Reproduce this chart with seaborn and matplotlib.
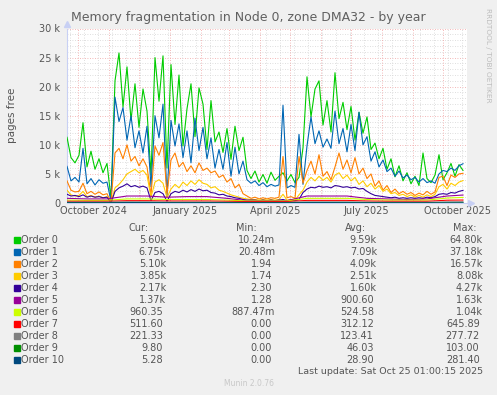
import matplotlib
matplotlib.use("Agg")
import matplotlib.pyplot as plt
from matplotlib.patches import Rectangle
import pandas as pd
import seaborn as sns

# time axis: munin "by year" = last 400 days
start = pd.Timestamp("2024-09-20 01:00")
end = pd.Timestamp("2025-10-25 01:00")
fine_days = list(range(0, 400, 4))
coarse_days = list(range(0, 400, 20)) + [396]

# values in thousands of pages
order0 = [11.3, 7.8, 6.9, 8.2, 13.8, 6.2, 8.9, 5.8, 7.6, 5.2,
          6.8, 0.8, 21.0, 25.8, 16.5, 23.4, 14.2, 20.5, 13.0, 19.6,
          15.8, 4.8, 25.0, 17.5, 25.3, 6.0, 23.8, 13.5, 22.0, 9.8,
          16.2, 20.5, 11.4, 19.8, 17.0, 9.2, 17.6, 10.5, 12.2, 8.7,
          12.8, 7.5, 13.2, 9.0, 11.3, 5.6, 4.2, 5.5, 3.6, 4.9,
          3.4, 5.3, 3.9, 4.6, 5.2, 3.8, 4.9, 3.5, 4.4, 9.5,
          21.7, 14.8, 19.6, 21.0, 13.4, 17.6, 12.2, 22.4, 14.5, 17.3,
          12.6, 16.6, 10.8, 15.6, 12.0, 14.8, 9.2, 10.3, 7.6, 9.4,
          5.8, 7.6, 4.5, 6.4, 3.8, 5.2, 3.3, 4.6, 3.0, 8.6,
          4.2, 3.5, 4.8, 8.3, 4.0, 5.2, 6.8, 4.6, 6.6, 5.6]
order1 = [6.3, 3.8, 4.4, 3.6, 9.4, 3.3, 4.2, 3.1, 4.0, 3.4,
          3.6, 0.3, 18.2, 14.0, 16.4, 10.8, 15.0, 9.5, 12.4, 8.6,
          13.2, 2.8, 15.0, 11.2, 17.0, 1.2, 14.2, 9.8, 13.6, 7.8,
          12.4, 6.9, 14.6, 9.0, 13.0, 7.6, 11.2, 6.0, 9.2, 5.8,
          10.4, 4.6, 9.6, 5.0, 7.2, 4.0, 3.4, 3.8, 3.0, 3.5,
          2.8, 3.2, 2.9, 3.1, 16.8, 2.6, 3.0, 2.7, 11.8, 3.2,
          9.8, 14.8, 10.2, 12.4, 9.6, 11.0, 9.4, 15.8, 10.2, 12.8,
          8.8, 13.5, 9.0, 15.6, 10.0, 11.4, 7.2, 8.8, 6.2, 7.4,
          5.4, 6.0, 4.6, 5.5, 4.3, 4.8, 4.0, 4.4, 3.6, 4.2,
          3.5, 3.8, 3.4, 5.0, 5.6, 5.4, 6.0, 5.6, 6.4, 6.75]
order2 = [3.8, 2.2, 1.9, 2.0, 3.4, 1.6, 2.0, 1.5, 1.9, 1.4,
          1.6, 0.1, 8.6, 9.4, 7.6, 10.0, 7.2, 8.0, 6.4, 7.6,
          6.2, 1.4, 9.8, 8.2, 10.4, 1.5, 7.4, 8.6, 6.2, 7.0,
          5.4, 6.4, 5.2, 6.9, 5.6, 6.0, 5.2, 5.5, 4.4, 4.8,
          3.6, 4.2, 2.6, 3.2, 1.6, 1.2, 0.8, 1.0, 0.7, 0.9,
          0.7, 0.9, 0.8, 1.0, 8.0, 0.9, 1.1, 0.8, 8.0, 3.4,
          5.6, 7.2, 5.0, 8.3, 4.6, 5.4, 4.0, 6.2, 8.6, 5.8,
          7.4, 5.2, 7.8, 5.0, 6.0, 4.2, 5.0, 2.9, 3.8, 2.2,
          3.0, 1.8, 2.4, 1.6, 2.0, 1.5, 1.8, 1.3, 1.7, 1.4,
          2.0, 1.5, 1.9, 4.4, 4.6, 3.0, 4.8, 4.4, 5.0, 5.1]
order3 = [2.2, 1.4, 1.2, 1.3, 2.0, 1.1, 1.3, 1.0, 1.2, 0.9,
          1.1, 0.1, 2.6, 3.2, 4.0, 5.0, 5.4, 5.8, 5.2, 5.6,
          4.8, 1.0, 3.6, 4.0, 3.4, 0.9, 2.4, 3.2, 2.6, 3.6,
          3.0, 3.8, 3.2, 4.0, 3.4, 3.2, 2.6, 2.8, 2.2, 2.0,
          1.7, 1.4, 1.2, 1.0, 0.8, 0.7, 0.6, 0.6, 0.5, 0.6,
          0.5, 0.6, 0.5, 0.6, 1.5, 0.5, 0.6, 0.5, 1.4, 2.2,
          3.6, 4.4, 3.8, 4.6, 3.9, 4.4, 3.6, 4.8, 5.2, 4.2,
          4.8, 3.8, 4.4, 3.2, 3.8, 2.8, 3.4, 2.4, 3.0, 2.0,
          2.4, 1.6, 1.8, 1.3, 1.5, 1.1, 1.4, 1.0, 1.3, 1.0,
          1.4, 1.1, 1.5, 2.8, 3.2, 2.4, 3.4, 3.0, 3.6, 3.85]
order4 = [1.5, 1.2, 1.3, 1.1, 1.4, 1.0, 1.2, 1.0, 1.1, 0.9,
          1.0, 0.0, 2.0, 2.6, 2.9, 3.3, 2.8, 3.0, 2.7, 2.9,
          2.6, 0.4, 1.8, 2.0, 1.6, 0.3, 1.6, 2.0, 1.8, 2.2,
          1.9, 2.3, 2.0, 2.4, 2.1, 2.2, 1.8, 1.7, 1.4, 1.5,
          1.2, 1.1, 0.9, 0.8, 0.6, 0.5, 0.5, 0.5, 0.4, 0.5,
          0.4, 0.5, 0.4, 0.5, 0.6, 0.4, 0.5, 0.4, 0.6, 1.8,
          2.4, 2.7, 2.6, 2.9, 2.7, 2.8, 2.6, 3.0, 2.9, 2.7,
          2.8, 2.6, 2.7, 2.4, 2.5, 2.0, 1.6, 1.3, 1.2, 1.1,
          1.0, 0.9, 1.0, 0.8, 0.9, 0.8, 0.9, 0.8, 0.9, 0.8,
          1.0, 0.9, 1.1, 1.5, 1.6, 1.5, 1.8, 1.7, 2.0, 2.17]
order5 = [0.8, 0.7, 0.7, 1.2, 1.2, 1.0, 1.1, 1.1, 0.8, 0.4, 0.4,
          0.4, 1.2, 1.2, 1.2, 0.8, 0.7, 0.6, 0.7, 1.2, 1.37]
order6 = [0.5, 0.45, 0.45, 0.7, 0.7, 0.6, 0.6, 0.6, 0.5, 0.35, 0.35,
          0.35, 0.8, 0.8, 0.8, 0.6, 0.5, 0.5, 0.5, 0.85, 0.96]
order7 = [0.3, 0.3, 0.3, 0.4, 0.4, 0.35, 0.35, 0.35, 0.3, 0.25, 0.25,
          0.25, 0.45, 0.45, 0.45, 0.35, 0.3, 0.3, 0.3, 0.48, 0.51]
order8 = [0.15, 0.15, 0.15, 0.2, 0.2, 0.15, 0.15, 0.15, 0.12, 0.1, 0.1,
          0.1, 0.2, 0.2, 0.2, 0.15, 0.12, 0.12, 0.12, 0.2, 0.22]
order9 = [0.05, 0.05, 0.04, 0.08, 0.07, 0.06, 0.05, 0.05, 0.04, 0.03, 0.03,
          0.03, 0.06, 0.06, 0.05, 0.04, 0.03, 0.02, 0.02, 0.01, 0.01]
order10 = [0.03, 0.03, 0.02, 0.05, 0.04, 0.03, 0.03, 0.03, 0.02, 0.02, 0.02,
           0.02, 0.04, 0.04, 0.03, 0.02, 0.01, 0.01, 0.01, 0.005, 0.005]

names = ["Order %d" % i for i in range(11)]
colors = ["#00CC00", "#0066B3", "#FF8000", "#FFCC00", "#330099", "#990099",
          "#CCFF00", "#FF0000", "#808080", "#008F00", "#00487D"]
series = [order0, order1, order2, order3, order4, order5, order6,
          order7, order8, order9, order10]
day_sets = [fine_days] * 5 + [coarse_days] * 6

cur = ["5.60k", "6.75k", "5.10k", "3.85k", "2.17k", "1.37k", "960.35",
       "511.60", "221.33", "9.80", "5.28"]
mins = ["10.24m", "20.48m", "1.94", "1.74", "2.30", "1.28", "887.47m",
        "0.00", "0.00", "0.00", "0.00"]
avgs = ["9.59k", "7.09k", "4.09k", "2.51k", "1.60k", "900.60", "524.58",
        "312.12", "123.41", "46.03", "28.90"]
maxs = ["64.80k", "37.18k", "16.57k", "8.08k", "4.27k", "1.63k", "1.04k",
        "645.89", "277.72", "103.00", "281.40"]

frames = []
for name, vals, days in zip(names, series, day_sets):
    frames.append(pd.DataFrame({"date": start + pd.to_timedelta(days, unit="D"),
                                "pages": vals, "order": name}))
df = pd.concat(frames, ignore_index=True)

W, H = 497, 395
txt = "#555555"
plt.rcParams["font.family"] = ["DejaVu Sans"]

fig = plt.figure(figsize=(W / 100, H / 100), dpi=100, facecolor="#F0F0F0")
ax = fig.add_axes([67 / W, 192 / H, 400 / W, 174.5 / H])
ax.set_facecolor("white")


def fx(x):
    return x / W


def fy(y):
    return 1 - y / H


# grid like rrdtool
for v in range(1, 31):
    if v % 5 == 0:
        ax.axhline(v, color="#F0A0A0", lw=0.6, ls=(0, (1, 2)), zorder=0)
    else:
        ax.axhline(v, color="#D4D4D4", lw=0.6, ls=(0, (1, 2)), zorder=0)
for d in pd.date_range("2024-09-23", end, freq="14D"):
    ax.axvline(d, color="#D4D4D4", lw=0.6, ls=(0, (1, 2)), zorder=0)
for d in pd.date_range("2024-10-01", end, freq="MS"):
    ax.axvline(d, color="#F0A0A0", lw=0.6, ls=(0, (1, 2)), zorder=0)

sns.lineplot(data=df, x="date", y="pages", hue="order", hue_order=names,
             palette=colors, estimator=None, linewidth=0.8, legend=False,
             ax=ax, zorder=3)

ax.set_xlim(start, end)
ax.set_ylim(0, 30)
ax.set_xlabel("")
ax.set_ylabel("")
for s in ["top", "right"]:
    ax.spines[s].set_visible(False)
for s in ["left", "bottom"]:
    ax.spines[s].set_color("#C8D0F4")
    ax.spines[s].set_linewidth(0.8)
ax.plot([0], [1.025], marker="^", color="#C8D0F4", ms=4, transform=ax.transAxes, clip_on=False)
ax.plot([1.01], [0], marker=">", color="#C8D0F4", ms=4, transform=ax.transAxes, clip_on=False)

label_dates = [pd.Timestamp(s) for s in ["2024-10-16", "2025-01-16", "2025-04-16",
                                         "2025-07-16", "2025-10-16"]]
ax.set_xticks(label_dates)
ax.set_xticklabels(["October 2024", "January 2025", "April 2025",
                    "July 2025", "October 2025"])
ax.set_yticks(range(0, 31, 5))
ax.set_yticklabels(["0"] + ["%d k" % v for v in range(5, 31, 5)])
ax.tick_params(axis="both", length=0, labelsize=7, colors=txt)
ax.tick_params(axis="y", pad=5)
ax.tick_params(axis="x", pad=2.5)

fig.text(fx(248.5), fy(17), "Memory fragmentation in Node 0, zone DMA32 - by year",
         ha="center", va="center", fontsize=9.0, color="#606060")
fig.text(fx(12), fy(115), "pages free", rotation=90, ha="center", va="center",
         fontsize=7.5, color=txt)
fig.text(fx(488), fy(55), "RRDTOOL / TOBI OETIKER", rotation=270, ha="center",
         va="center", fontsize=5.3, color="#BDBDBD")

# legend table
fs = 7
for head, xr in zip(["Cur:", "Min:", "Avg:", "Max:"], [149, 257, 366, 477]):
    fig.text(fx(xr), fy(228), head, ha="right", va="center", fontsize=fs, color=txt)
for i, name in enumerate(names):
    y = 240 + 12 * i
    fig.patches.append(Rectangle((fx(14), fy(y + 3)), 6 / W, 6 / H,
                                 transform=fig.transFigure, color=colors[i]))
    fig.text(fx(21), fy(y), name, ha="left", va="center", fontsize=fs, color=txt)
    for vals, xr in zip([cur, mins, avgs, maxs], [166, 275, 377, 483]):
        v = vals[i]
        x = xr if v[-1] in "km" else xr - 3
        fig.text(fx(x), fy(y), v, ha="right", va="center", fontsize=fs, color=txt)

fig.text(fx(483), fy(372), "Last update: Sat Oct 25 01:00:15 2025", ha="right",
         va="center", fontsize=6.8, color=txt)
fig.text(fx(248.5), fy(384), "Munin 2.0.76", ha="center", va="center",
         fontsize=5.5, color="#C8C8C8")

fig.savefig("out.png", dpi=100, facecolor=fig.get_facecolor())
